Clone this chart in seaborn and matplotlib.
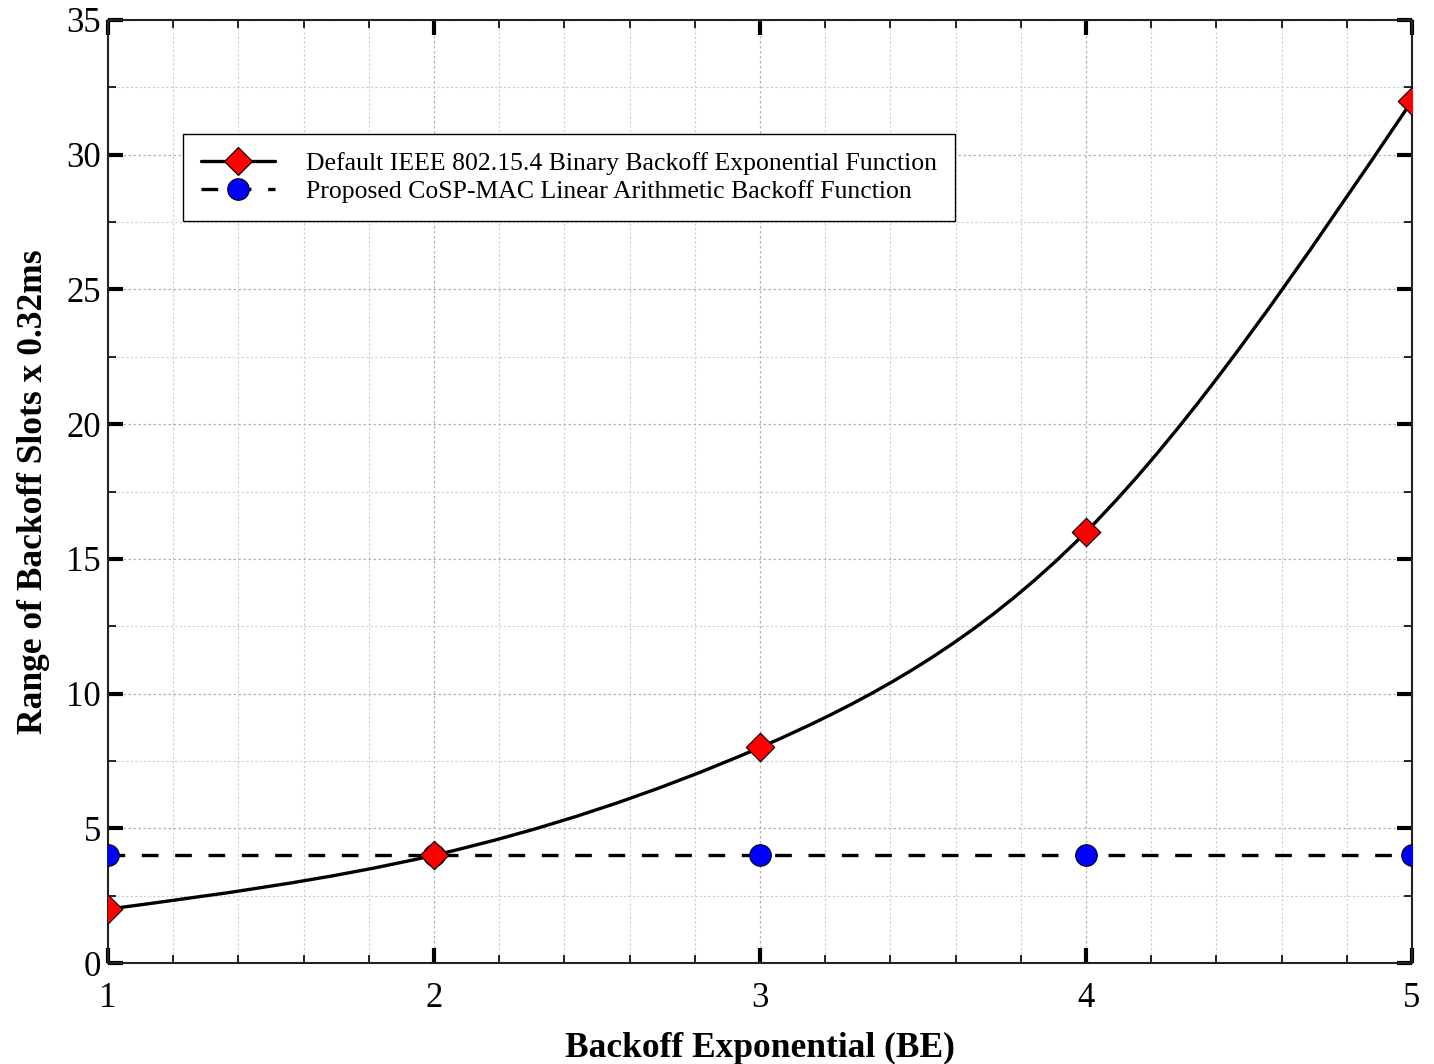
import numpy as np
import pandas as pd
import matplotlib
matplotlib.use("Agg")
import matplotlib.pyplot as plt
from matplotlib.path import Path
from matplotlib.patches import PathPatch
from matplotlib.lines import Line2D
from matplotlib.ticker import MultipleLocator
import seaborn as sns

# data
be = [1, 2, 3, 4, 5]
ieee_slots = [2, 4, 8, 16, 32]
cosp_slots = [4, 4, 4, 4, 4]
ieee_label = "Default IEEE 802.15.4 Binary Backoff Exponential Function"
cosp_label = "Proposed CoSP-MAC Linear Arithmetic Backoff Function"

df = pd.DataFrame({"BE": be, "ieee": ieee_slots, "cosp": cosp_slots})

sns.set_style("ticks")
plt.rcParams["font.family"] = ["Liberation Serif", "DejaVu Serif"]
plt.rcParams["text.color"] = "black"
plt.rcParams["axes.labelcolor"] = "black"
plt.rcParams["xtick.color"] = "black"
plt.rcParams["ytick.color"] = "black"

fig, ax = plt.subplots(figsize=(14.34, 10.64), dpi=100)
fig.subplots_adjust(left=108/1434, right=1412/1434, top=1-20/1064, bottom=1-963/1064)


def spline_path(xs, ys):
    ### natural cubic spline through the points, drawn as bezier segments (Origin "spline" line)
    x = np.asarray(xs, float)
    y = np.asarray(ys, float)
    n = len(x)
    h = np.diff(x)
    A = np.zeros((n, n))
    r = np.zeros(n)
    A[0, 0] = A[-1, -1] = 1
    for i in range(1, n - 1):
        A[i, i-1] = h[i-1]
        A[i, i] = 2 * (h[i-1] + h[i])
        A[i, i+1] = h[i]
        r[i] = 6 * ((y[i+1] - y[i]) / h[i] - (y[i] - y[i-1]) / h[i-1])
    M = np.linalg.solve(A, r)
    verts = [(x[0], y[0])]
    codes = [Path.MOVETO]
    for i in range(n - 1):
        s0 = (y[i+1] - y[i]) / h[i] - h[i] * (2 * M[i] + M[i+1]) / 6
        s1 = (y[i+1] - y[i]) / h[i] + h[i] * (M[i] + 2 * M[i+1]) / 6
        verts += [(x[i] + h[i] / 3, y[i] + s0 * h[i] / 3),
                  (x[i+1] - h[i] / 3, y[i+1] - s1 * h[i] / 3),
                  (x[i+1], y[i+1])]
        codes += [Path.CURVE4] * 3
    return Path(verts, codes)


curve = PathPatch(spline_path(df["BE"], df["ieee"]), fill=False, edgecolor="black",
                  linewidth=2.4, zorder=3, transform=ax.transData)
ax.add_patch(curve)

sns.lineplot(data=df, x="BE", y="cosp", ax=ax, color="black", linewidth=2.4,
             dashes=False, zorder=3)
ax.lines[-1].set_dashes([5, 5])
sns.scatterplot(data=df, x="BE", y="cosp", ax=ax, marker="o", s=15.5**2,
                color="blue", edgecolor="black", linewidth=0.8, zorder=4)
sns.scatterplot(data=df, x="BE", y="ieee", ax=ax, marker="D", s=14.5**2,
                color="red", edgecolor="black", linewidth=0.8, zorder=5)

ax.set_xlim(1, 5)
ax.set_ylim(0, 35)
ax.xaxis.set_major_locator(MultipleLocator(1))
ax.xaxis.set_minor_locator(MultipleLocator(0.2))
ax.yaxis.set_major_locator(MultipleLocator(5))
ax.yaxis.set_minor_locator(MultipleLocator(2.5))

ax.grid(which="major", color="#b0b0b0", linestyle=(0, (2, 2)), linewidth=0.9)
ax.grid(which="minor", color="#cccccc", linestyle=(0, (2, 2)), linewidth=0.8)
ax.set_axisbelow(True)

ax.tick_params(which="major", direction="in", length=11, width=3, top=True, right=True,
               labelsize=25, color="black", labelcolor="black")
ax.tick_params(which="minor", direction="in", length=6, width=1.2, top=True, right=True,
               color="black")
ax.tick_params(axis="x", which="major", pad=14)
ax.tick_params(axis="y", which="major", pad=5)
for sp in ax.spines.values():
    sp.set_color("#222222")
    sp.set_linewidth(1.5)

ax.set_xlabel("Backoff Exponential (BE)", fontsize=25.5, fontweight="bold", labelpad=12,
              color="black")
ax.set_ylabel("Range of Backoff Slots x 0.32ms", fontsize=25.5, fontweight="bold", labelpad=12,
              color="black")

dash_handle = Line2D([], [], color="black", linewidth=2.4, marker="o",
                     markersize=15.5, markerfacecolor="blue", markeredgecolor="black",
                     markeredgewidth=0.8)
dash_handle.set_dashes([5, 5])
handles = [
    Line2D([], [], color="black", linewidth=2.4, marker="D", markersize=14.5,
           markerfacecolor="red", markeredgecolor="black", markeredgewidth=0.8),
    dash_handle,
]
leg = ax.legend(handles, [ieee_label, cosp_label], loc="upper left",
                bbox_to_anchor=(0.0575, 0.879), borderaxespad=0, fontsize=18.5,
                frameon=True, fancybox=False, framealpha=1, edgecolor="black",
                handlelength=2.9, handletextpad=1.2, labelspacing=0.2,
                borderpad=0.7)
leg.get_frame().set_linewidth(1.0)
leg.set_zorder(10)
for t in leg.get_texts():
    t.set_color("black")

fig.savefig("out.png", dpi=100)
